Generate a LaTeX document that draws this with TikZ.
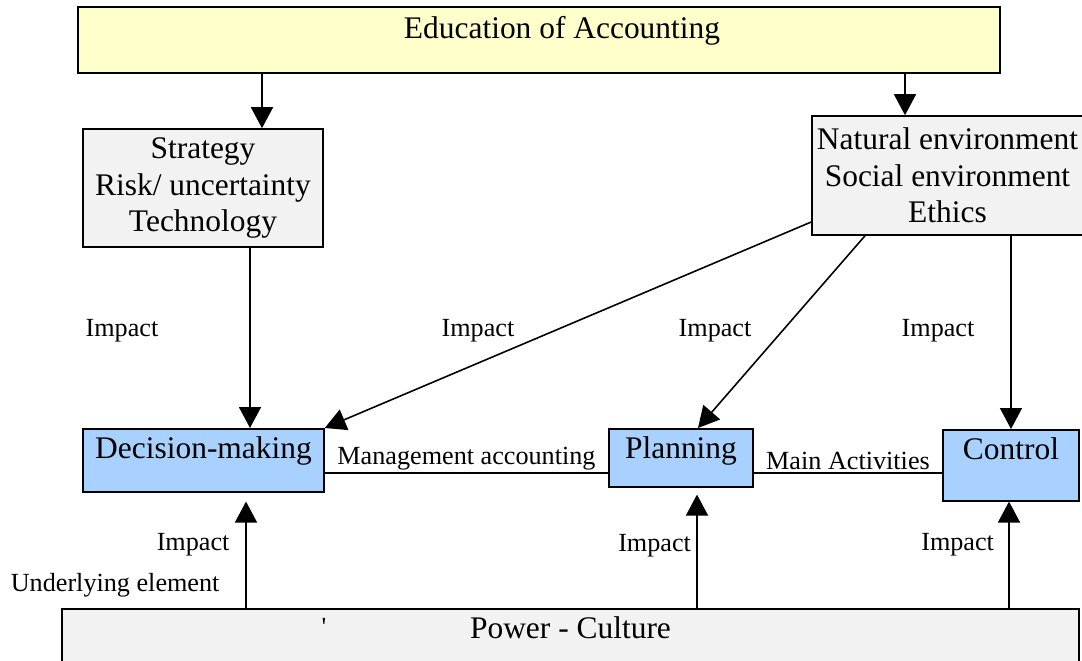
\documentclass[tikz,border=0pt]{standalone}
\usepackage{fontspec}
\setmainfont{Liberation Serif}
\usetikzlibrary{arrows.meta}
\definecolor{eduyellow}{HTML}{FFFFCC}
\definecolor{boxgray}{HTML}{F2F2F2}
\definecolor{actblue}{HTML}{A8D1FF}
\newcommand{\bigtext}{\fontsize{17.9pt}{20.8pt}\selectfont}
\newcommand{\smalltext}{\fontsize{14.9pt}{17pt}\selectfont}

\begin{document}
\begin{tikzpicture}[x=0.02cm, y=-0.02cm, line width=0.9pt,
  box/.style={draw, rectangle, font=\bigtext, inner sep=0pt},
  factor/.style={box, fill=boxgray, align=center},
  activity/.style={box, fill=actblue, anchor=north, text height=0.6cm},
  lbl/.style={font=\smalltext, inner sep=1pt},
  arr/.style={-{Triangle[length=0.42cm, width=0.44cm]}}]
\useasboundingbox (0,0) rectangle (1082,661);
% boxes
\node[box, fill=eduyellow, minimum width=18.44cm, minimum height=1.32cm] (edu) at (539,40) {};
\node[font=\bigtext, anchor=base] (eduText) at (562,39) {Education of Accounting};
\node[factor, minimum width=4.8cm, minimum height=2.36cm] (strat) at (203,188) {Strategy\\Risk/ uncertainty\\Technology};
\node[factor, minimum width=5.42cm, minimum height=2.38cm] (nat) at (947.5,175.5) {Natural environment\\Social environment\\Ethics};
\node[activity, minimum width=4.82cm, text depth=0.66cm] (dm) at (203.5,428) {Decision-making};
\node[activity, minimum width=2.88cm, text depth=0.56cm] (plan) at (681,428) {Planning};
\node[activity, minimum width=2.72cm, text depth=0.82cm] (ctrl) at (1011,429) {Control};
\node[activity, fill=boxgray, minimum width=20.34cm, text depth=1cm] (power) at (570.5,608) {Power - Culture};
\node[lbl] (tick) at (324,627) {\textquotesingle};
% arrows from the top
\coordinate (stratIn) at ([xshift=1.18cm]strat.north);
\coordinate (natIn) at ([xshift=-0.85cm]nat.north);
\draw[arr] (stratIn |- edu.south) -- (stratIn);
\draw[arr] (natIn |- edu.south) -- (natIn);
% impacts on the activities
\coordinate (stratOut) at ([xshift=0.94cm]strat.south);
\draw[arr] (stratOut) -- (stratOut |- dm.north);
\draw[arr] ([yshift=-0.93cm]nat.west) -- (dm.north east);
\draw[arr] ([xshift=-1.65cm]nat.south) -- ([xshift=0.34cm]plan.north);
\draw[arr] (ctrl.north |- nat.south) -- (ctrl.north);
\node[lbl, anchor=base] (imp1) at (122,337) {Impact};
\node[lbl, anchor=base] (imp2) at (478,337) {Impact};
\node[lbl, anchor=base] (imp3) at (715,337) {Impact};
\node[lbl, anchor=base] (imp4) at (938,337) {Impact};
% main activities
\coordinate (dmOut) at ([yshift=-0.25cm]dm.east);
\coordinate (planOut) at ([yshift=-0.3cm]plan.east);
\draw (dmOut) -- (dmOut -| plan.west) node[midway, above, lbl] {Management accounting};
\draw (planOut) -- (planOut -| ctrl.west) node[midway, above, lbl] {Main Activities};
% underlying element
\coordinate (dmIn) at ([xshift=0.85cm]dm.south);
\coordinate (planIn) at ([xshift=0.32cm]plan.south);
\coordinate (ctrlIn) at ([xshift=-0.04cm]ctrl.south);
\draw[arr, shorten >=0.18cm] (dmIn |- power.north) -- (dmIn) node[pos=0.55, left=0.28cm, lbl] {Impact};
\draw[arr, shorten >=0.14cm] (planIn |- power.north) -- (planIn) node[pos=0.52, left=0.07cm, lbl] {Impact};
\draw[arr] (ctrlIn |- power.north) -- (ctrlIn) node[pos=0.59, left=0.25cm, lbl] {Impact};
\node[lbl, anchor=base east] (under) at (222,592) {Underlying element};
\end{tikzpicture}
\end{document}
